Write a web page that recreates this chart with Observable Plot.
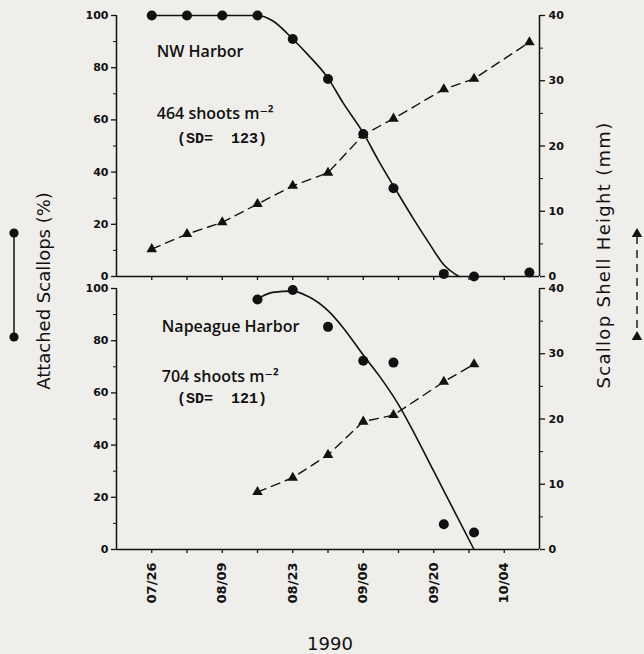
<!DOCTYPE html>
<html><head><meta charset="utf-8">
<script src="https://cdn.jsdelivr.net/npm/d3@7"></script>
<script src="https://cdn.jsdelivr.net/npm/@observablehq/plot@0.6"></script>
<style>
html,body{margin:0;padding:0;background:#f0eeeb;}
#chart{position:relative;width:644px;height:654px;background:#f0eeeb;font-family:"DejaVu Sans",sans-serif;color:#111;overflow:hidden;}
#chart svg{position:absolute;left:0;}
</style></head><body><div id="chart"></div>
<script>
// ---- data ----
const nwDates = ["1990-07-26","1990-08-02","1990-08-09","1990-08-16","1990-08-23","1990-08-30","1990-09-06","1990-09-12","1990-09-22","1990-09-28","1990-10-09"];
const nwAttached = [100,100,100,100,91,75.7,54.6,33.8,1,0,1.5];
const nwShell = [4.2,6.5,8.3,11.1,13.9,15.9,21.7,24.2,28.7,30.3,35.9];
const nwFitDates = ["1990-07-26","1990-08-16","1990-08-19","1990-08-23","1990-08-26","1990-08-30","1990-09-02","1990-09-06","1990-09-09","1990-09-13","1990-09-16","1990-09-19","1990-09-22","1990-09-25"];
const nwFitValues = [100,100,98,91,85,76,66.5,55,44.5,31.5,22,13,4.5,0];

const napDates = ["1990-08-16","1990-08-23","1990-08-30","1990-09-06","1990-09-12","1990-09-22","1990-09-28"];
const napAttached = [95.8,99.4,85.3,72.3,71.6,9.7,6.5];
const napShell = [8.8,11.0,14.5,19.6,20.6,25.7,28.4];
const napFitDates = ["1990-08-16","1990-08-19","1990-08-23","1990-08-26","1990-08-30","1990-09-02","1990-09-06","1990-09-09","1990-09-13","1990-09-16","1990-09-20","1990-09-24","1990-09-28"];
const napFitValues = [96,98.5,99,97,91.5,85,74.5,67,55.5,45,30,15,0];

const xDomain = ["1990-07-19","1990-10-11"];
const labelTicks = ["1990-07-26","1990-08-09","1990-08-23","1990-09-06","1990-09-20","1990-10-04"];
const minorTicks = ["1990-08-02","1990-08-16","1990-08-30","1990-09-13","1990-09-27"];
const pctTicks = [0,20,40,60,80,100];
const pctMinor = [10,30,50,70,90];
const mmTicks = [0,10,20,30,40];
const mmMinor = [5,15,25,35];
const mmMax = 40;

const nwNotes = [
  {date:"1990-07-27", pct:86, text:"NW Harbor"},
  {date:"1990-07-27", pct:62.5, text:"464 shoots m\u207B\u00B2"}
];
const nwSD = [{date:"1990-07-31", pct:53, text:"(SD=  123)"}];
const napNotes = [
  {date:"1990-07-28", pct:85.4, text:"Napeague Harbor"},
  {date:"1990-07-28", pct:66.3, text:"704 shoots m\u207B\u00B2"}
];
const napSD = [{date:"1990-07-31", pct:57.9, text:"(SD=  121)"}];

// ---- drawing ----
const ink = "#111";
const k = 100 / mmMax;
const D = s => new Date(s);

function panel({dates, attached, shell, fitDates, fitValues, notes, sd, height, marginBottom, showLabels}) {
  const pts = dates.map((d, i) => ({date: D(d), pct: attached[i], mm: shell[i]}));
  const fit = fitDates.map((d, i) => ({date: D(d), pct: fitValues[i]}));
  const n = notes.map(o => ({...o, date: D(o.date)}));
  const s = sd.map(o => ({...o, date: D(o.date)}));
  const allTicks = [...labelTicks, ...minorTicks].map(D);
  return Plot.plot({
    width: 644, height,
    marginLeft: 116, marginRight: 105, marginTop: 15, marginBottom,
    style: {background: "transparent", fontFamily: "DejaVu Sans, sans-serif", color: ink, overflow: "visible"},
    x: {type: "utc", domain: xDomain.map(D)},
    y: {domain: [0, 100]},
    marks: [
      Plot.ruleX([D(xDomain[0]), D(xDomain[1])], {stroke: ink, strokeWidth: 1.5}),
      Plot.ruleY([0], {stroke: ink, strokeWidth: 1.6}),
      Plot.axisY({anchor: "left", ticks: pctTicks, tickSize: 5, tickPadding: 3, label: null, fontSize: 11, fontWeight: "bold", strokeWidth: 1.3}),
      Plot.axisY({anchor: "left", ticks: pctMinor, tickSize: 3, fill: "none", label: null}),
      Plot.axisY({anchor: "right", ticks: mmTicks.map(v => v * k), tickFormat: v => String(Math.round(v / k)), tickSize: 5, tickPadding: 4, label: null, fontSize: 11, fontWeight: "bold", strokeWidth: 1.3}),
      Plot.axisY({anchor: "right", ticks: mmMinor.map(v => v * k), tickSize: 3, fill: "none", label: null}),
      Plot.axisX({ticks: allTicks, tickSize: 4, fill: "none", label: null, strokeWidth: 1.3}),
      showLabels ? Plot.axisX({ticks: labelTicks.map(D), tickFormat: "%m/%d", tickRotate: -90, tickSize: 0, tickPadding: 13, label: null, fontSize: 13, fontWeight: "bold"}) : null,
      Plot.line(pts, {x: "date", y: d => d.mm * k, stroke: ink, strokeWidth: 1.4, strokeDasharray: "9,6"}),
      Plot.line(fit, {x: "date", y: "pct", curve: "monotone-x", stroke: ink, strokeWidth: 1.6}),
      Plot.dot(pts, {x: "date", y: d => d.mm * k, symbol: "triangle", r: 3.9, fill: ink, stroke: null}),
      Plot.dot(pts, {x: "date", y: "pct", r: 5, fill: ink, stroke: null}),
      Plot.text(n, {x: "date", y: "pct", text: "text", textAnchor: "start", fontSize: 16, fontWeight: 600, fontFamily: "Open Sans, DejaVu Sans, sans-serif", fill: ink}),
      Plot.text(s, {x: "date", y: "pct", text: "text", textAnchor: "start", fontSize: 15, fontWeight: "bold", fontFamily: "Liberation Mono, DejaVu Sans Mono, monospace", fill: ink})
    ]
  });
}

const chart = document.getElementById("chart");
const top1 = panel({dates: nwDates, attached: nwAttached, shell: nwShell, fitDates: nwFitDates, fitValues: nwFitValues, notes: nwNotes, sd: nwSD, height: 290, marginBottom: 14, showLabels: false});
top1.style.top = "0px";
chart.appendChild(top1);
const bot = panel({dates: napDates, attached: napAttached, shell: napShell, fitDates: napFitDates, fitValues: napFitValues, notes: napNotes, sd: napSD, height: 381, marginBottom: 105, showLabels: true});
bot.style.top = "273px";
chart.appendChild(bot);

// titles and legend glyphs
const ov = d3.select(chart).append("svg").attr("width", 644).attr("height", 654)
  .style("top", "0px").style("font-family", "DejaVu Sans, sans-serif");
ov.append("text").attr("transform", "translate(43,291) rotate(-90)").attr("text-anchor", "middle")
  .attr("dominant-baseline", "central").attr("font-size", 18).attr("fill", ink).text("Attached Scallops (%)");
ov.append("text").attr("transform", "translate(603,255) rotate(-90)").attr("text-anchor", "middle")
  .attr("dominant-baseline", "central").attr("font-size", 18).attr("letter-spacing", 1.3).attr("fill", ink).text("Scallop Shell Height (mm)");
ov.append("text").attr("x", 330).attr("y", 643).attr("text-anchor", "middle")
  .attr("dominant-baseline", "central").attr("font-size", 18).attr("fill", ink).text("1990");
// left legend glyph
ov.append("line").attr("x1", 14).attr("x2", 14).attr("y1", 233).attr("y2", 337).attr("stroke", ink).attr("stroke-width", 1.5);
[233, 337].forEach(y => ov.append("circle").attr("cx", 14).attr("cy", y).attr("r", 4.6).attr("fill", ink));
// right legend glyph
ov.append("line").attr("x1", 637).attr("x2", 637).attr("y1", 236).attr("y2", 334).attr("stroke", ink).attr("stroke-width", 1.4).attr("stroke-dasharray", "8,6");
[234, 337].forEach(y => ov.append("path").attr("d", d3.symbol(d3.symbolTriangle, 48)()).attr("transform", `translate(637,${y})`).attr("fill", ink));
</script></body></html>
